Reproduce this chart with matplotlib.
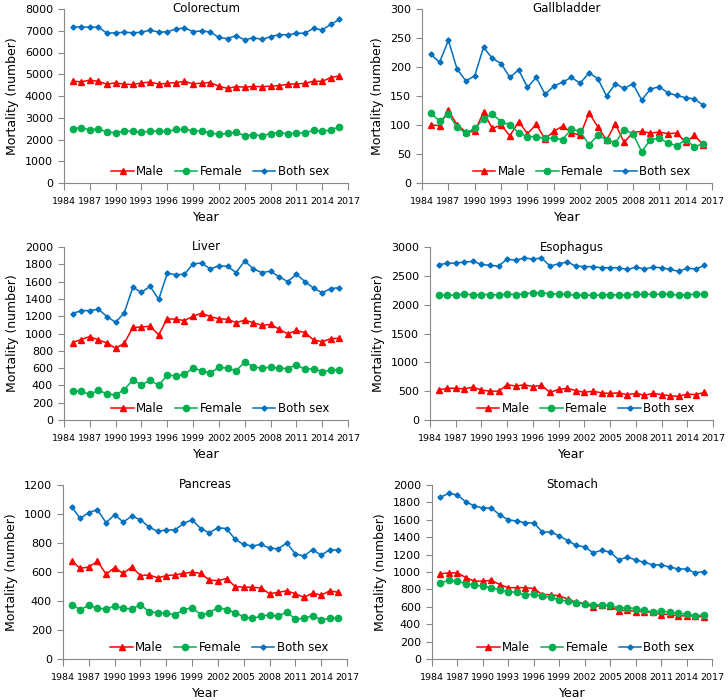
import matplotlib
matplotlib.use("Agg")
import matplotlib.pyplot as plt

years = list(range(1985, 2017))

# Colorectum
colo_both = [7170, 7180, 7160, 7170, 6880, 6910, 6930, 6910, 6930, 7030, 6940, 6950, 7080, 7130, 6960, 6990,
             6940, 6690, 6640, 6780, 6580, 6680, 6600, 6730, 6820, 6810, 6880, 6890, 7110, 7040, 7290, 7520]
colo_male = [4680, 4650, 4730, 4670, 4540, 4610, 4540, 4530, 4600, 4640, 4550, 4580, 4620, 4670, 4560, 4590,
             4620, 4450, 4350, 4430, 4410, 4440, 4430, 4450, 4480, 4540, 4560, 4580, 4680, 4670, 4850, 4920]
colo_female = [2500, 2540, 2440, 2490, 2340, 2310, 2390, 2380, 2330, 2380, 2380, 2370, 2460, 2460, 2400, 2400,
               2310, 2240, 2280, 2330, 2180, 2220, 2170, 2270, 2320, 2260, 2300, 2310, 2420, 2370, 2450, 2580]

# Gallbladder
gall_both = [222, 208, 246, 196, 176, 185, 234, 215, 206, 182, 195, 165, 182, 153, 167, 174,
             182, 172, 190, 180, 150, 171, 163, 171, 143, 162, 166, 155, 151, 147, 145, 134]
gall_male = [100, 99, 125, 100, 88, 89, 122, 94, 100, 81, 106, 85, 101, 76, 89, 98,
             87, 82, 121, 97, 74, 102, 70, 87, 89, 86, 88, 85, 86, 70, 82, 66]
gall_female = [120, 107, 119, 96, 86, 94, 110, 119, 106, 100, 87, 80, 80, 77, 77, 75,
               93, 89, 66, 82, 75, 69, 92, 85, 54, 75, 77, 69, 64, 75, 62, 68]

# Liver
liver_both = [1230, 1265, 1265, 1280, 1195, 1130, 1240, 1535, 1475, 1545, 1395, 1695, 1680, 1685, 1805, 1815,
              1745, 1785, 1775, 1705, 1840, 1745, 1705, 1720, 1655, 1600, 1685, 1600, 1525, 1470, 1520, 1530]
liver_male = [895, 930, 965, 925, 890, 830, 885, 1070, 1075, 1085, 985, 1170, 1165, 1150, 1200, 1235,
              1195, 1170, 1165, 1125, 1155, 1125, 1095, 1105, 1050, 995, 1035, 1010, 925, 905, 940, 945]
liver_female = [335, 330, 295, 345, 300, 290, 350, 465, 405, 460, 400, 520, 510, 530, 600, 570,
                545, 610, 600, 570, 670, 615, 600, 610, 600, 595, 640, 585, 595, 560, 575, 580]

# Esophagus
eso_both = [2690, 2720, 2720, 2740, 2750, 2700, 2680, 2670, 2790, 2770, 2810, 2790, 2810, 2670, 2710, 2740,
            2670, 2660, 2660, 2640, 2640, 2640, 2610, 2650, 2620, 2650, 2640, 2610, 2580, 2630, 2620, 2680]
eso_male = [520, 550, 550, 540, 570, 520, 500, 500, 610, 590, 610, 580, 600, 480, 530, 550,
            510, 480, 500, 470, 460, 470, 440, 460, 430, 460, 440, 420, 410, 450, 440, 480]
eso_female = [2160, 2165, 2170, 2185, 2170, 2175, 2175, 2170, 2180, 2175, 2190, 2205, 2205, 2190, 2185, 2180,
              2160, 2170, 2160, 2170, 2175, 2165, 2170, 2180, 2180, 2180, 2185, 2180, 2165, 2175, 2180, 2190]

# Pancreas
panc_both = [1050, 970, 1010, 1030, 940, 995, 945, 985, 960, 910, 880, 890, 890, 935, 960, 900,
             870, 905, 900, 825, 790, 780, 790, 765, 760, 800, 725, 710, 755, 715, 755, 750]
panc_male = [675, 625, 635, 675, 585, 630, 590, 635, 575, 580, 560, 575, 580, 590, 600, 590,
             545, 540, 555, 500, 495, 495, 490, 450, 460, 470, 450, 425, 455, 440, 470, 460]
panc_female = [375, 340, 370, 350, 345, 365, 350, 345, 375, 325, 320, 315, 305, 340, 355, 305,
               320, 355, 340, 320, 290, 280, 295, 305, 295, 325, 275, 280, 300, 270, 280, 285]

# Stomach
stom_both = [1860, 1905, 1885, 1805, 1760, 1735, 1735, 1655, 1600, 1585, 1565, 1565, 1460, 1460, 1415, 1360,
             1305, 1290, 1220, 1250, 1230, 1140, 1170, 1140, 1110, 1085, 1080, 1060, 1035, 1035, 990, 1005]
stom_male = [980, 990, 990, 935, 895, 895, 905, 855, 820, 820, 820, 810, 740, 740, 725, 690,
             650, 640, 595, 615, 610, 550, 565, 545, 545, 535, 510, 515, 490, 500, 490, 485]
stom_female = [875, 905, 895, 865, 855, 835, 820, 795, 775, 765, 730, 750, 720, 710, 680, 665,
               640, 635, 620, 625, 615, 585, 590, 580, 560, 540, 555, 535, 530, 515, 495, 510]

xticks = list(range(1984, 2018, 3))

# name, male, female, both, ymax, ystep, axes rect in pixels (left, top, right, bottom)
panels = [
    ("Colorectum", colo_male, colo_female, colo_both, 8000, 1000, (64, 9, 348, 183)),
    ("Gallbladder", gall_male, gall_female, gall_both, 300, 50, (422, 9, 712, 183)),
    ("Liver", liver_male, liver_female, liver_both, 2000, 200, (64, 247, 348, 420)),
    ("Esophagus", eso_male, eso_female, eso_both, 3000, 500, (430, 247, 713, 420)),
    ("Pancreas", panc_male, panc_female, panc_both, 1200, 200, (63, 485, 347, 659)),
    ("Stomach", stom_male, stom_female, stom_both, 2000, 200, (432, 485, 712, 659)),
]

W, H = 728, 700
fig = plt.figure(figsize=(W / 100, H / 100), dpi=100)

for name, male, female, both, ymax, ystep, (l, t, r, b) in panels:
    ax = fig.add_axes([l / W, 1 - b / H, (r - l) / W, (b - t) / H])
    ax.plot(years, male, color='#FF0000', marker='^', markersize=4, linewidth=1.1, label='Male')
    ax.plot(years, female, color='#00B050', marker='o', markersize=4.5, linewidth=1.1, label='Female')
    ax.plot(years, both, color='#0070C0', marker='D', markersize=2.6, linewidth=1.1, label='Both sex')
    ax.set_xlim(1984, 2017)
    ax.set_ylim(0, ymax)
    ax.set_xticks(xticks)
    ax.set_yticks(range(0, ymax + 1, ystep))
    ax.tick_params(axis='x', labelsize=6.8, length=5, color='#888888', pad=5)
    ax.tick_params(axis='y', labelsize=8, length=4, color='#888888', pad=4)
    for s in ['top', 'right']:
        ax.spines[s].set_visible(False)
    for s in ['left', 'bottom']:
        ax.spines[s].set_color('#888888')
        ax.spines[s].set_linewidth(0.8)
    ax.set_xlabel('Year', fontsize=9, labelpad=4)
    ax.set_ylabel('Mortality (number)', fontsize=9, labelpad=4)
    ax.text(0.5, 1.0, name, transform=ax.transAxes, ha='center', va='center', fontsize=8.5)
    ax.legend(loc='center', bbox_to_anchor=(0.55, 0.065), ncol=3, frameon=False, fontsize=8.5,
              handlelength=1.9, handletextpad=0.2, columnspacing=0.9, borderaxespad=0)

fig.savefig('out.png', dpi=100)
